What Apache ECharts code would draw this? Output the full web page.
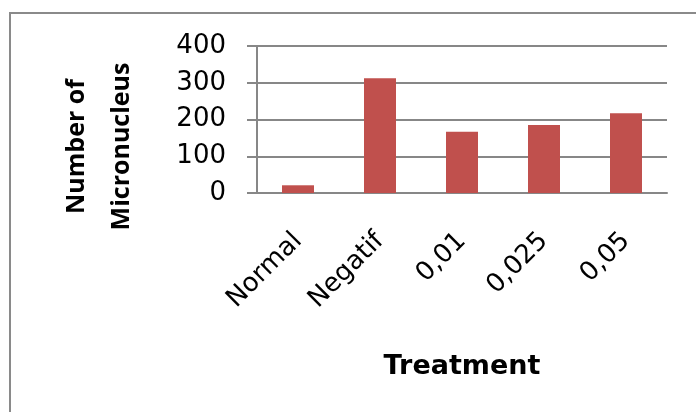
<!DOCTYPE html>
<html>
<head>
<meta charset="utf-8">
<script src="https://cdn.jsdelivr.net/npm/echarts@6/dist/echarts.min.js"></script>
<style>
  html, body { margin: 0; padding: 0; background: #fff; }
  #chart { width: 696px; height: 412px; }
</style>
</head>
<body>
<div id="chart"></div>
<script>
  const categories = ['Normal', 'Negatif', '0,01', '0,025', '0,05'];
  const micronucleus = [21, 312, 167, 185, 217];
  const yTicks = { min: 0, max: 400, interval: 100 };

  const chart = echarts.init(document.getElementById('chart'));
  const axisGray = '#878787';

  chart.setOption({
    animation: false,
    grid: { left: 257, right: 29, top: 46, bottom: 219 },
    graphic: [{
      type: 'rect',
      shape: { x: 10, y: 13, width: 700, height: 420 },
      style: { fill: 'none', stroke: '#8a8a8a', lineWidth: 2 }
    }],
    xAxis: {
      type: 'category',
      data: categories,
      name: 'Treatment',
      nameLocation: 'middle',
      nameGap: 160,
      nameTextStyle: { fontFamily: 'DejaVu Sans', fontWeight: 'bold', fontSize: 27, color: '#000' },
      axisLine: { lineStyle: { color: axisGray, width: 2 } },
      axisTick: { show: false },
      axisLabel: {
        rotate: 45,
        margin: 44,
        interval: 0,
        fontFamily: 'DejaVu Sans',
        fontSize: 26,
        color: '#000'
      }
    },
    yAxis: {
      type: 'value',
      min: yTicks.min,
      max: yTicks.max,
      interval: yTicks.interval,
      name: 'Number of\nMicronucleus',
      nameLocation: 'middle',
      nameGap: 113,
      nameRotate: 90,
      nameTextStyle: {
        fontFamily: 'Open Sans',
        fontWeight: 'bold',
        fontSize: 25,
        lineHeight: 45,
        color: '#000',
        padding: [0, 54, 0, 0]
      },
      axisLine: { show: true, lineStyle: { color: axisGray, width: 2 } },
      axisTick: { show: true, length: 10, lineStyle: { color: axisGray, width: 2 } },
      splitLine: { lineStyle: { color: axisGray, width: 2 } },
      axisLabel: {
        margin: 31,
        fontFamily: 'DejaVu Sans',
        fontSize: 26,
        color: '#000'
      }
    },
    series: [{
      type: 'bar',
      data: micronucleus,
      barWidth: 32,
      itemStyle: { color: '#C0504D' }
    }]
  });
</script>
</body>
</html>
